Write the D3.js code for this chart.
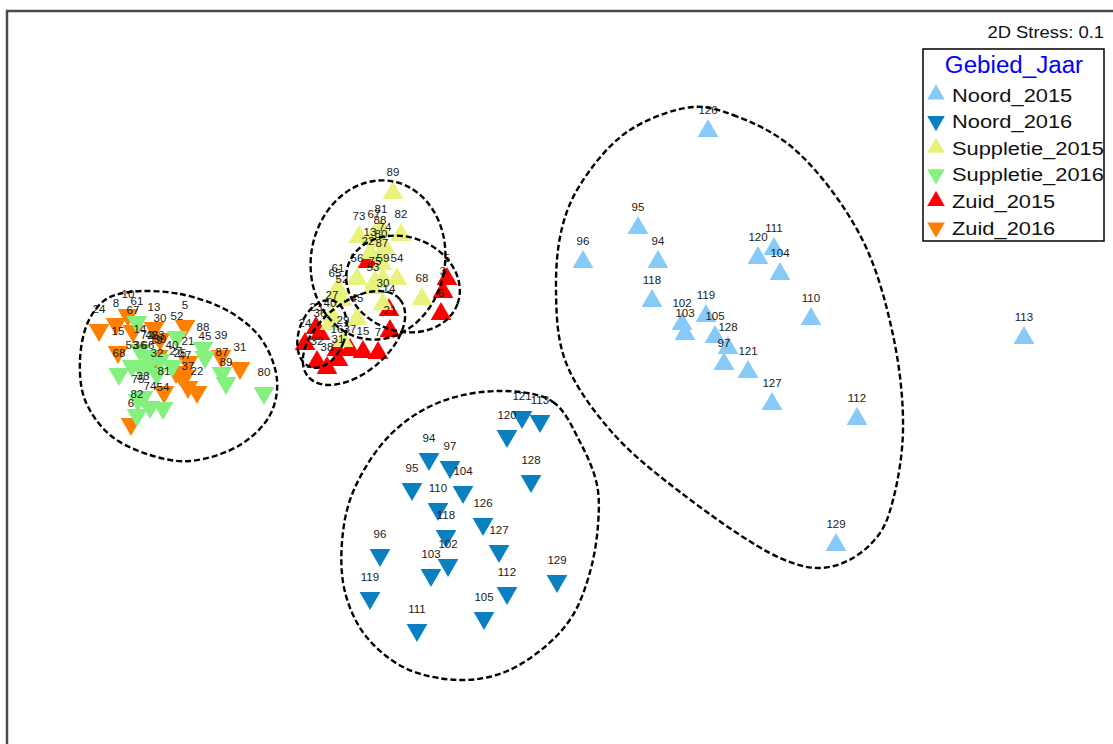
<!DOCTYPE html>
<html><head><meta charset="utf-8">
<script src="https://cdn.jsdelivr.net/npm/d3@7"></script>
<style>
body{margin:0;background:#fff}
svg{display:block}
text{font-family:"Liberation Sans", Arial, sans-serif}
</style>
</head><body>
<svg id="chart" width="1113" height="744"></svg>
<script>
// ---- data (NMDS coordinates: [label, MDS1, MDS2]) ----
const groupNames = ["Noord_2015","Noord_2016","Suppletie_2015","Suppletie_2016","Zuid_2015","Zuid_2016"];
const groupShapes = ["up","down","up","down","up","down"];
const groupColors = ["#87CAF8","#0A80C0","#E9F27C","#84F07E","#FF0000","#FF8000"];
const stressLabel = "2D Stress: 0.1";
const legendTitle = "Gebied_Jaar";

const noord2015 = [
  ["126",1.48,2.49],["95",0.78,1.52],["96",0.23,1.18],["94",0.98,1.18],["120",1.98,1.22],
  ["111",2.14,1.31],["104",2.20,1.06],["118",0.92,0.79],["110",2.51,0.61],["119",1.46,0.64],
  ["102",1.22,0.56],["103",1.25,0.46],["105",1.55,0.43],["128",1.68,0.32],["97",1.64,0.16],
  ["121",1.88,0.08],["127",2.12,-0.24],["112",2.97,-0.39],["129",2.76,-1.65],["113",4.64,0.42]
];
const noord2016 = [
  ["121",-0.38,-0.37],["113",-0.20,-0.41],["120",-0.53,-0.56],["94",-1.31,-0.79],["97",-1.10,-0.87],
  ["95",-1.48,-1.09],["104",-0.97,-1.12],["128",-0.29,-1.01],["110",-1.22,-1.29],["126",-0.77,-1.44],
  ["118",-1.14,-1.56],["127",-0.61,-1.71],["102",-1.12,-1.85],["96",-1.80,-1.75],["103",-1.29,-1.95],
  ["129",-0.03,-2.01],["112",-0.53,-2.13],["119",-1.90,-2.18],["105",-0.76,-2.38],["111",-1.43,-2.50]
];
const suppletie2015 = [
  ["89",-1.67,1.87],["73",-2.01,1.43],["81",-1.79,1.50],["67",-1.86,1.45],["88",-1.80,1.39],
  ["74",-1.75,1.32],["82",-1.59,1.45],["13",-1.90,1.27],["80",-1.79,1.25],["87",-1.78,1.16],
  ["56",-2.03,1.01],["59",-1.77,1.01],["54",-1.63,1.01],["75",-1.85,0.98],["53",-1.87,0.92],
  ["68",-1.38,0.81],["61",-2.22,0.91],["65",-2.25,0.86],["52",-2.18,0.80],["30",-1.77,0.76],
  ["27",-2.28,0.64],["40",-2.30,0.56],["45",-2.03,0.61],["29",-2.17,0.39]
];
const suppletie2016 = [
  ["61",-4.23,0.58],["52",-3.83,0.43],["14",-4.20,0.30],["72",-4.13,0.24],["59",-4.00,0.20],
  ["53",-4.28,0.14],["36",-4.20,0.14],["66",-4.12,0.14],["68",-4.41,0.06],["32",-4.03,0.06],
  ["40",-3.88,0.14],["88",-3.57,0.32],["45",-3.55,0.23],["87",-3.38,0.07],["89",-3.34,-0.03],
  ["75",-4.22,-0.20],["38",-4.17,-0.17],["74",-4.10,-0.27],["54",-3.97,-0.28],["82",-4.23,-0.35],
  ["80",-2.96,-0.13]
];
const zuid2015 = [
  ["22",-1.92,1.18],["5",-1.13,1.01],["3",-1.17,0.88],["6",-1.19,0.66],["14",-1.71,0.70],
  ["21",-1.70,0.49],["15",-1.97,0.28],["7",-1.82,0.27],["16",-2.23,0.30],["37",-2.10,0.30],
  ["32",-2.43,0.18],["38",-2.33,0.12],["31",-2.22,0.20],["24",-2.55,0.36],["23",-2.44,0.52],
  ["36",-2.40,0.46]
];
const zuid2016 = [
  ["10",-4.32,0.65],["24",-4.61,0.50],["8",-4.44,0.56],["67",-4.27,0.49],["13",-4.06,0.52],
  ["5",-3.75,0.54],["30",-4.00,0.41],["15",-4.42,0.28],["46",-4.08,0.24],["23",-4.02,0.24],
  ["19",-4.04,0.19],["21",-3.72,0.18],["27",-3.84,0.08],["25",-3.80,0.06],["47",-3.75,0.04],
  ["39",-3.39,0.24],["31",-3.20,0.12],["37",-3.72,-0.07],["22",-3.63,-0.12],["81",-3.96,-0.12],
  ["6",-4.29,-0.44]
];
// large cluster contours, as traced points [MDS1, MDS2]
const contourLeft = [
  [-4.30,0.88],[-3.80,0.86],[-3.30,0.68],[-2.98,0.40],[-2.83,0.00],[-2.90,-0.35],[-3.20,-0.65],
  [-3.70,-0.81],[-4.10,-0.75],[-4.50,-0.55],[-4.75,-0.20],[-4.80,0.20],[-4.72,0.58],[-4.55,0.80]
];
const contourNoord2015 = [
  [1.33,2.73],[1.73,2.65],[2.33,2.32],[3.00,1.45],[3.33,0.45],[3.43,-0.50],[3.33,-1.20],[3.20,-1.53],
  [2.93,-1.78],[2.60,-1.88],[2.20,-1.78],[1.20,-1.12],[0.50,-0.50],[0.05,0.20],[-0.04,0.90],
  [0.02,1.52],[0.20,1.95],[0.67,2.48]
];
const contourNoord2016 = [
  [-0.57,-0.11],[-0.07,-0.22],[0.20,-0.62],[0.37,-1.05],[0.38,-1.45],[0.30,-1.92],[0.13,-2.35],
  [-0.13,-2.65],[-0.55,-2.92],[-1.00,-3.00],[-1.55,-2.88],[-1.95,-2.55],[-2.15,-2.12],[-2.18,-1.62],
  [-2.07,-1.12],[-1.70,-0.55],[-1.20,-0.22]
];
// small contours in the middle group: [centre MDS1, centre MDS2, semi-axis 1, semi-axis 2, rotation deg]
const contourEllipses = [
  [-1.82, 1.20, 0.67, 0.80, 10],
  [-1.57, 0.96, 0.58, 0.47, 20],
  [-2.06, 0.42, 0.60, 0.35, -40],
  [-2.38, 0.46, 0.23, 0.35, 20]
];

const groupData = [noord2015, noord2016, suppletie2015, suppletie2016, zuid2015, zuid2016];
const drawOrder = [4, 5, 2, 3, 0, 1];

// ---- chart ----
const W = 1113, H = 744;
const svg = d3.select("#chart");
const x = d3.scaleLinear().domain([-5.53, 5.53]).range([7, W]);
const y = d3.scaleLinear().domain([3.69, -3.64]).range([11, H]);

const tri = d3.symbol().type(d3.symbolTriangle).size(187);
const triSmall = d3.symbol().type(d3.symbolTriangle).size(135);

svg.append("path")
  .attr("d", `M7,${H} V11 H${W}`)
  .attr("fill", "none").attr("stroke", "#4a4a4a").attr("stroke-width", 2.5);

const gPts = svg.append("g");
drawOrder.forEach(gi => {
  gPts.selectAll(null).data(groupData[gi]).enter().append("path")
    .attr("d", tri())
    .attr("fill", groupColors[gi])
    .attr("transform", d => `translate(${x(d[1])},${y(d[2])})` + (groupShapes[gi] === "down" ? " rotate(180)" : ""));
});

const gLab = svg.append("g");
drawOrder.forEach(gi => {
  gLab.selectAll(null).data(groupData[gi]).enter().append("text")
    .attr("x", d => x(d[1]))
    .attr("y", d => y(d[2]) - 17)
    .attr("text-anchor", "middle")
    .attr("font-size", 11.5)
    .attr("fill", "#1a1a1a")
    .text(d => d[0]);
});

const contourStyle = sel => sel.attr("fill", "none").attr("stroke", "#000")
  .attr("stroke-width", 2.4).attr("stroke-dasharray", "6,3");

const line = d3.line().x(d => x(d[0])).y(d => y(d[1])).curve(d3.curveCatmullRomClosed.alpha(0.5));
const gC = svg.append("g");
[contourLeft, contourNoord2015, contourNoord2016].forEach(c => {
  gC.append("path").attr("d", line(c)).call(contourStyle);
});
gC.selectAll("ellipse").data(contourEllipses).enter().append("ellipse")
  .attr("cx", d => x(d[0]))
  .attr("cy", d => y(d[1]))
  .attr("rx", d => x(d[0] + d[2]) - x(d[0]))
  .attr("ry", d => y(d[1] - d[3]) - y(d[1]))
  .attr("transform", d => `rotate(${d[4]},${x(d[0])},${y(d[1])})`)
  .call(contourStyle);

svg.append("text")
  .attr("transform", "translate(1104,38) scale(1.15,1)")
  .attr("text-anchor", "end").attr("font-size", 16).attr("fill", "#111")
  .text(stressLabel);

const lg = svg.append("g");
lg.append("rect").attr("x", 923).attr("y", 49).attr("width", 181).attr("height", 192)
  .attr("fill", "#fff").attr("stroke", "#000").attr("stroke-width", 1.5);
lg.append("text")
  .attr("transform", "translate(1014,73) scale(1.05,1)")
  .attr("text-anchor", "middle").attr("font-size", 23).attr("fill", "#0000FF")
  .text(legendTitle);
groupNames.forEach((name, i) => {
  const base = 101.5 + i * 26.6;
  lg.append("path").attr("d", triSmall())
    .attr("fill", groupColors[i])
    .attr("transform", `translate(936,${base - 7})` + (groupShapes[i] === "down" ? " rotate(180)" : ""));
  lg.append("text")
    .attr("transform", `translate(952,${base}) scale(1.15,1)`)
    .attr("font-size", 19).attr("fill", "#111")
    .text(name);
});
</script>
</body></html>
